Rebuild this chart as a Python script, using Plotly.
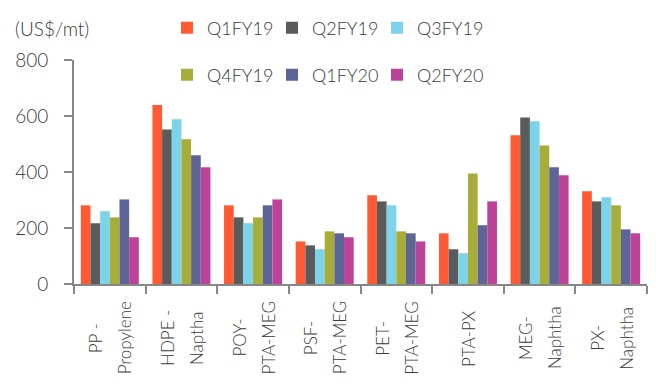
import plotly.graph_objects as go

label_lines = [("PP -", "Propylene"), ("HDPE -", "Naptha"), ("POY-", "PTA-MEG"),
               ("PSF-", "PTA-MEG"), ("PET-", "PTA-MEG"), ("PTA-PX",),
               ("MEG-", "Naphtha"), ("PX-", "Naphtha")]
categories = [" ".join(l) for l in label_lines]

series_names = ["Q1FY19", "Q2FY19", "Q3FY19", "Q4FY19", "Q1FY20", "Q2FY20"]
q1fy19 = [281, 639, 281, 152, 317, 181, 531, 331]
q2fy19 = [217, 552, 238, 138, 295, 124, 595, 295]
q3fy19 = [260, 588, 217, 124, 281, 110, 581, 310]
q4fy19 = [238, 517, 238, 188, 188, 395, 495, 281]
q1fy20 = [302, 460, 281, 181, 181, 210, 417, 195]
q2fy20 = [167, 417, 302, 167, 152, 295, 388, 181]
series_values = [q1fy19, q2fy19, q3fy19, q4fy19, q1fy20, q2fy20]
colors = ["#FF5A33", "#5A5B5D", "#7DD3E7", "#A8AC38", "#5C6596", "#BD4399"]

y_ticks = [0, 200, 400, 600, 800]

FONT = "Lato"
TXT = "#3a3a3a"
AX = "#878787"
WEIGHT = 300

W, H = 656, 391
L, R, T, B = 74, 9, 60, 107
PW, PH = W - L - R, H - T - B


def px_x(x):
    return (x - L) / PW


def px_y(y):
    return (H - B - y) / PH


fig = go.Figure()
for i, (name, vals, c) in enumerate(zip(series_names, series_values, colors)):
    fig.add_trace(go.Bar(
        x=categories, y=vals, name=name, marker_color=c,
        marker_line_width=0,
        legend="legend" if i < 3 else "legend2",
    ))

# invisible spacer entries so the last legend labels are not clipped
for lg in ("legend", "legend2"):
    fig.add_trace(go.Scatter(
        x=[None], y=[None], mode="markers", name=" ",
        marker=dict(opacity=0, color="rgba(0,0,0,0)"),
        hoverinfo="skip", legend=lg, showlegend=True,
    ))

ann = []
for cat, lines in zip(categories, label_lines):
    n = len(lines)
    for j, line in enumerate(lines):
        shift = (j - (n - 1) / 2) * 29
        ann.append(dict(
            x=cat, xref="x", y=px_y(338), yref="paper",
            text=line, textangle=-90, showarrow=False,
            xanchor="center", yanchor="middle", xshift=shift,
            font=dict(family=FONT, size=17, color=TXT, weight=WEIGHT),
        ))
ann.append(dict(
    x=px_x(13), xref="paper", y=px_y(28), yref="paper",
    text="(US$/mt)", showarrow=False, xanchor="left", yanchor="middle",
    font=dict(family=FONT, size=19, color=TXT, weight=WEIGHT),
))

legend_common = dict(
    orientation="h", xref="container", yref="container",
    xanchor="left", yanchor="middle",
    font=dict(family=FONT, size=18, color=TXT, weight=WEIGHT),
    entrywidth=60, entrywidthmode="pixels",
    bgcolor="rgba(0,0,0,0)", borderwidth=0,
    itemclick=False, itemdoubleclick=False,
)

fig.update_layout(
    width=W, height=H,
    margin=dict(l=L, r=R, t=T, b=B, autoexpand=False),
    paper_bgcolor="white", plot_bgcolor="white",
    barmode="group", bargap=0.19, bargroupgap=0,
    showlegend=True,
    legend=dict(x=167 / W, y=1 - 28 / H, **legend_common),
    legend2=dict(x=167 / W, y=1 - 75 / H, **legend_common),
    font=dict(family=FONT, size=18, color=TXT, weight=WEIGHT),
    annotations=ann,
    xaxis=dict(
        showticklabels=False, showgrid=False, zeroline=False,
        showline=True, linecolor=AX, linewidth=2,
        ticks="outside", tickson="boundaries", ticklen=8,
        tickcolor=AX, tickwidth=2,
    ),
    yaxis=dict(
        range=[0, 800], tickvals=y_ticks, showgrid=False, zeroline=False,
        showline=True, linecolor=AX, linewidth=2,
        ticks="outside", ticklen=8, tickcolor=AX, tickwidth=2,
        tickfont=dict(family=FONT, size=19, color=TXT, weight=WEIGHT),
        ticklabelstandoff=12,
    ),
)

fig.write_html("out.html")
